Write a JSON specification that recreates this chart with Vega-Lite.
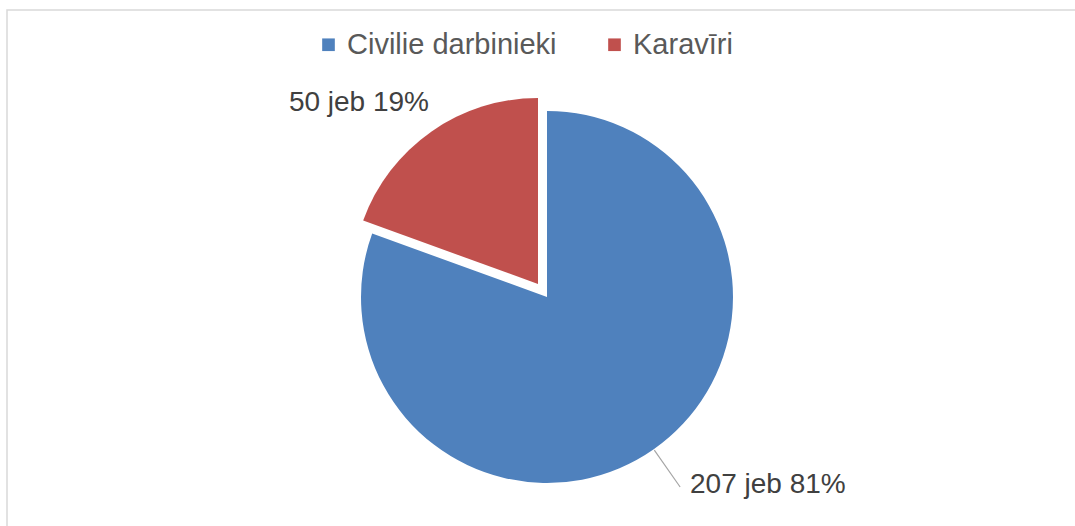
{
  "$schema": "https://vega.github.io/schema/vega-lite/v6.json",
  "width": 1080,
  "height": 574,
  "autosize": {"type": "none"},
  "padding": {"left": 7, "top": 10, "right": 0, "bottom": 0},
  "background": "white",
  "config": {
    "view": {"stroke": null},
    "font": "Liberation Sans",
    "legend": {
      "orient": "none",
      "legendX": 307,
      "legendY": 20,
      "direction": "horizontal",
      "padding": 0,
      "symbolType": "square",
      "symbolSize": 160,
      "symbolStrokeWidth": 0,
      "labelFontSize": 29,
      "labelFont": "Liberation Sans",
      "labelColor": "#595959",
      "labelOffset": 4,
      "labelLimit": 0,
      "columnPadding": 43,
      "title": null
    }
  },
  "data": {
    "values": [
      {"cat": "Civilie darbinieki", "value": 207, "idx": 1, "label": "207 jeb 81%"},
      {"cat": "Karavīri", "value": 50, "idx": 2, "label": "50 jeb 19%"}
    ]
  },
  "layer": [
    {
      "data": {"values": [{}]},
      "mark": {"type": "rect", "fill": null, "stroke": "#d9d9d9", "strokeWidth": 1.5},
      "encoding": {}
    },
    {
      "mark": {"type": "arc", "outerRadius": 186},
      "encoding": {
        "theta": {"field": "value", "type": "quantitative", "stack": true},
        "order": {"field": "idx", "type": "quantitative"},
        "color": {
          "field": "cat",
          "type": "nominal",
          "scale": {"domain": ["Civilie darbinieki", "Karavīri"], "range": ["#4F81BD", "#C0504D"]},
          "legend": {"title": null}
        },
        "opacity": {"condition": {"test": "datum.cat === 'Karavīri'", "value": 0}, "value": 1}
      }
    },
    {
      "mark": {"type": "arc", "outerRadius": 186, "xOffset": -9, "yOffset": -13},
      "encoding": {
        "theta": {"field": "value", "type": "quantitative", "stack": true},
        "order": {"field": "idx", "type": "quantitative"},
        "color": {"field": "cat", "type": "nominal"},
        "opacity": {"condition": {"test": "datum.cat === 'Karavīri'", "value": 1}, "value": 0}
      }
    },
    {
      "data": {"values": [{"mid": 103.5}]},
      "mark": {"type": "arc", "innerRadius": 187, "outerRadius": 232, "stroke": "#a6a6a6", "strokeWidth": 1.2, "fill": null},
      "encoding": {
        "theta": {"field": "mid", "type": "quantitative"},
        "theta2": {"field": "mid"}
      }
    },
    {
      "mark": {"type": "text", "radius": 230, "align": "right", "baseline": "middle", "dx": 14, "dy": -6, "fontSize": 28, "color": "#404040"},
      "encoding": {
        "theta": {"field": "value", "type": "quantitative", "stack": true},
        "order": {"field": "idx", "type": "quantitative"},
        "detail": {"field": "cat", "type": "nominal"},
        "text": {"condition": {"test": "datum.cat === 'Karavīri'", "field": "label"}, "value": ""}
      }
    },
    {
      "mark": {"type": "text", "radius": 230, "align": "left", "baseline": "middle", "dx": 11, "dy": 0, "fontSize": 28, "color": "#404040"},
      "encoding": {
        "theta": {"field": "value", "type": "quantitative", "stack": true},
        "order": {"field": "idx", "type": "quantitative"},
        "detail": {"field": "cat", "type": "nominal"},
        "text": {"condition": {"test": "datum.cat === 'Civilie darbinieki'", "field": "label"}, "value": ""}
      }
    }
  ]
}
